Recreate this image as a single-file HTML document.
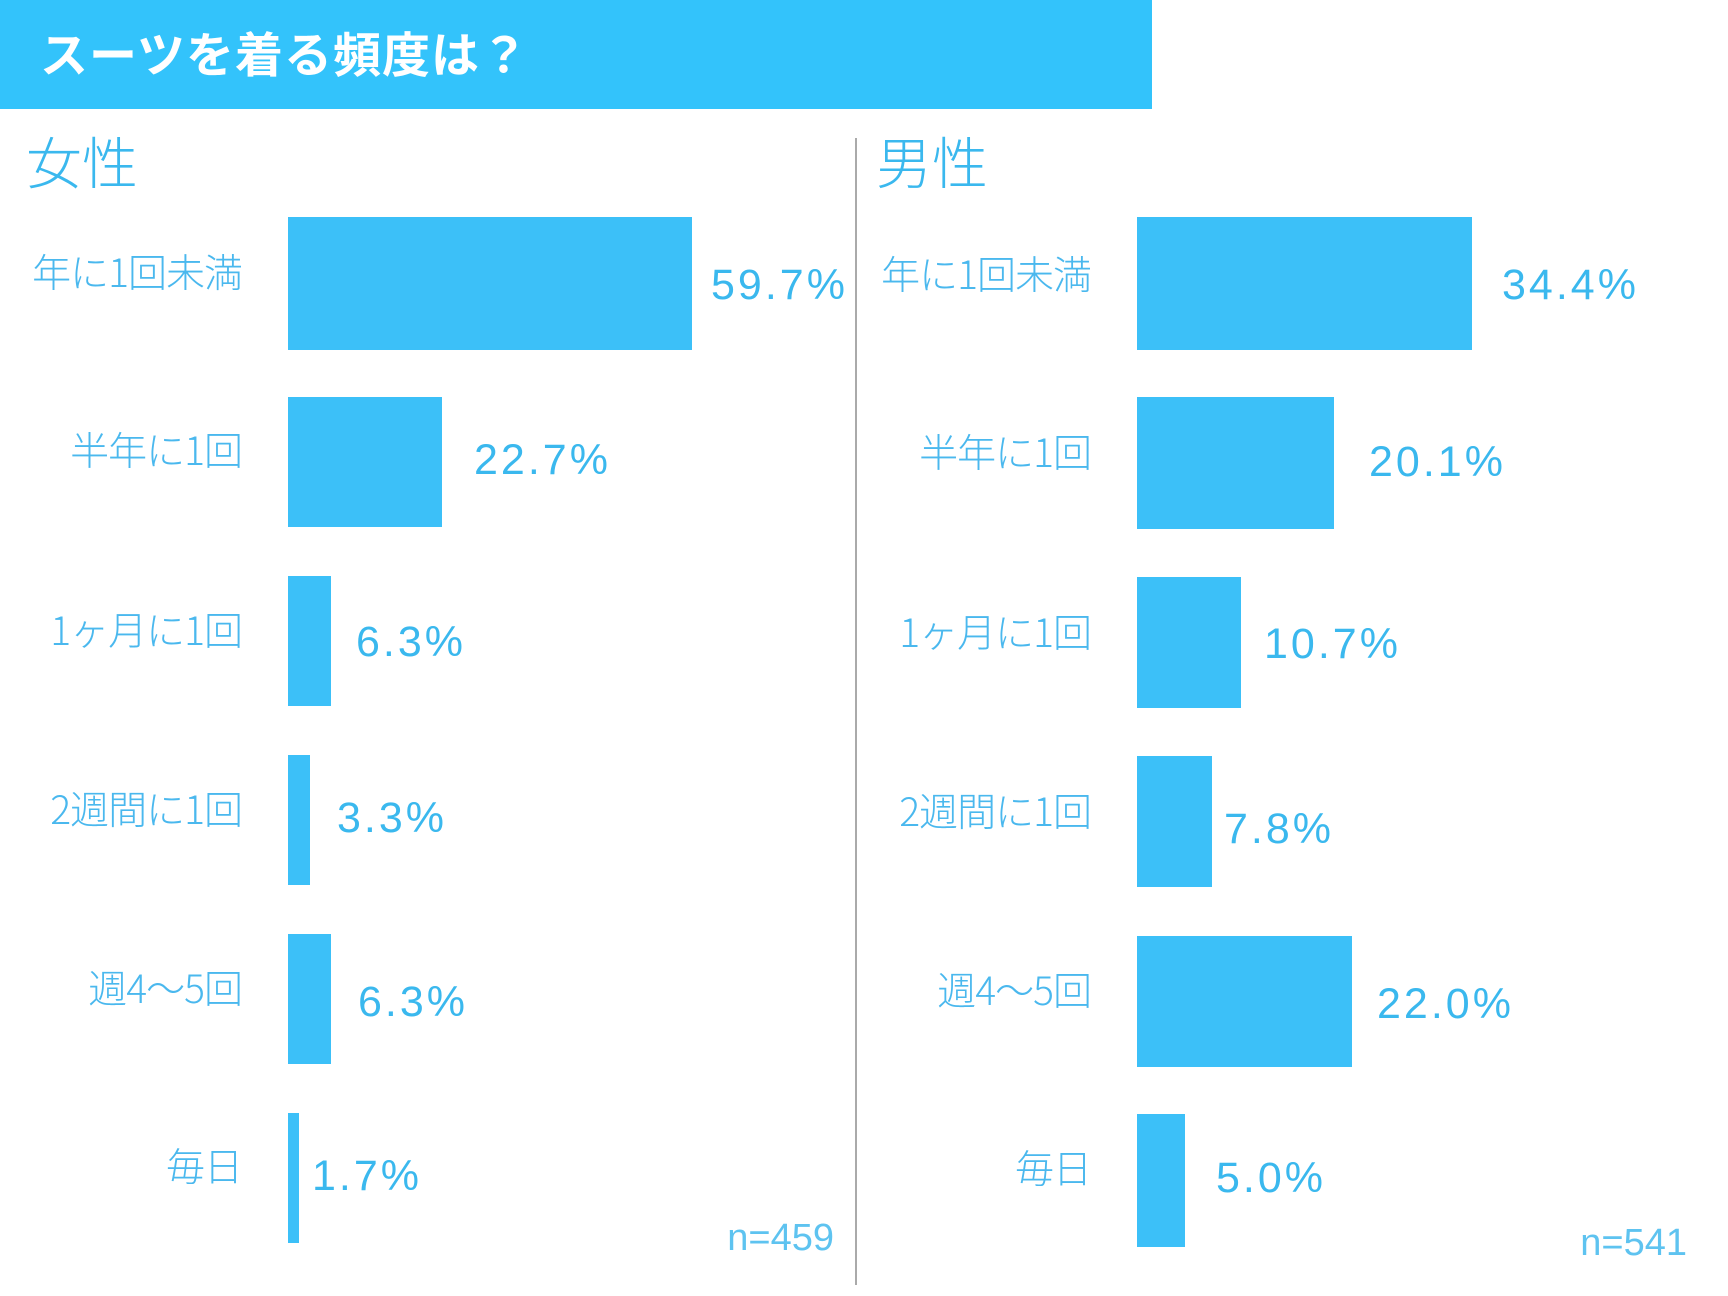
<!DOCTYPE html>
<html><head><meta charset="utf-8"><style>
body{margin:0;width:1728px;height:1296px;background:#fff;position:relative;overflow:hidden;font-family:"Liberation Sans","Noto Sans CJK JP",sans-serif;}
.hdr{position:absolute;left:0;top:0;width:1152px;height:109px;background:#33c3fb;}
.ttl{position:absolute;left:40px;top:16px;font-size:48px;font-weight:bold;color:#fff;font-family:"Noto Sans CJK JP","Liberation Sans",sans-serif;line-height:70px;letter-spacing:1px;}
.sex{position:absolute;top:128px;font-size:56px;color:#3ab8ee;font-family:"Noto Sans CJK JP",sans-serif;font-weight:300;line-height:66px;}
.div{position:absolute;left:855px;top:138px;width:2px;height:1147px;background:#aaa;}
.bar{position:absolute;background:#3cc0f8;}
.cat{position:absolute;font-size:39px;color:#4ab8ee;font-family:"Noto Sans CJK JP",sans-serif;font-weight:300;text-align:right;width:240px;line-height:44px;white-space:nowrap;letter-spacing:-1px;}
.pct{position:absolute;font-size:43px;color:#3ab8ee;letter-spacing:3px;line-height:50px;}
.n{position:absolute;font-size:38px;color:#5ec3f0;line-height:40px;text-align:right;width:200px;}
</style></head><body>
<div class="hdr"></div>
<div class="ttl">スーツを着る頻度は？</div>
<div class="sex" style="left:26px">女性</div>
<div class="sex" style="left:876px">男性</div>
<div class="div"></div>

<div class="cat" style="left:2px;top:249px">年に1回未満</div>
<div class="cat" style="left:2px;top:427px">半年に1回</div>
<div class="cat" style="left:2px;top:607px">1ヶ月に1回</div>
<div class="cat" style="left:2px;top:786px">2週間に1回</div>
<div class="cat" style="left:2px;top:965px">週4～5回</div>
<div class="cat" style="left:2px;top:1143px">毎日</div>

<div class="cat" style="left:851px;top:251px">年に1回未満</div>
<div class="cat" style="left:851px;top:429px">半年に1回</div>
<div class="cat" style="left:851px;top:609px">1ヶ月に1回</div>
<div class="cat" style="left:851px;top:788px">2週間に1回</div>
<div class="cat" style="left:851px;top:967px">週4～5回</div>
<div class="cat" style="left:851px;top:1145px">毎日</div>

<div class="bar" style="left:288px;top:217px;width:404px;height:133px"></div>
<div class="bar" style="left:288px;top:397px;width:154px;height:130px"></div>
<div class="bar" style="left:288px;top:576px;width:43px;height:130px"></div>
<div class="bar" style="left:288px;top:755px;width:22px;height:130px"></div>
<div class="bar" style="left:288px;top:934px;width:43px;height:130px"></div>
<div class="bar" style="left:288px;top:1113px;width:11px;height:130px"></div>

<div class="bar" style="left:1137px;top:217px;width:335px;height:133px"></div>
<div class="bar" style="left:1137px;top:397px;width:197px;height:132px"></div>
<div class="bar" style="left:1137px;top:577px;width:104px;height:131px"></div>
<div class="bar" style="left:1137px;top:756px;width:75px;height:131px"></div>
<div class="bar" style="left:1137px;top:936px;width:215px;height:131px"></div>
<div class="bar" style="left:1137px;top:1114px;width:48px;height:133px"></div>

<div class="pct" style="left:711px;top:260px">59.7%</div>
<div class="pct" style="left:474px;top:435px">22.7%</div>
<div class="pct" style="left:356px;top:617px">6.3%</div>
<div class="pct" style="left:337px;top:793px">3.3%</div>
<div class="pct" style="left:358px;top:977px">6.3%</div>
<div class="pct" style="left:312px;top:1151px">1.7%</div>

<div class="pct" style="left:1502px;top:260px">34.4%</div>
<div class="pct" style="left:1369px;top:437px">20.1%</div>
<div class="pct" style="left:1264px;top:619px">10.7%</div>
<div class="pct" style="left:1224px;top:804px">7.8%</div>
<div class="pct" style="left:1377px;top:979px">22.0%</div>
<div class="pct" style="left:1216px;top:1153px">5.0%</div>

<div class="n" style="left:634px;top:1218px">n=459</div>
<div class="n" style="left:1487px;top:1223px">n=541</div>
</body></html>
